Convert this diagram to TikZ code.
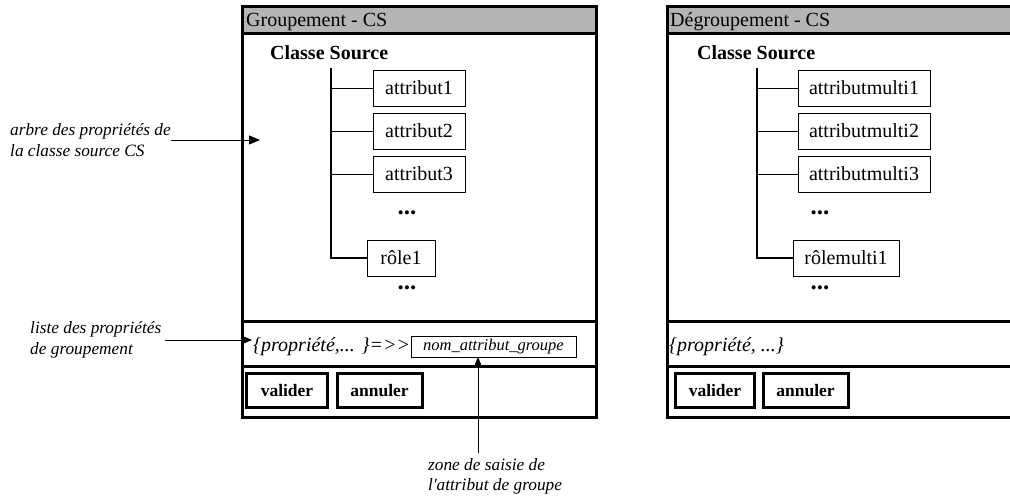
\documentclass[tikz,border=0pt]{standalone}
\usepackage{fontspec}
\setmainfont{Liberation Serif}
\usetikzlibrary{arrows.meta}

\definecolor{barre}{HTML}{B4B4B4}

\tikzset{
  texte/.style={font=\fontsize{20}{23}\selectfont, inner sep=0pt},
  champ/.style={draw, line width=0.8pt, minimum height=36pt, inner sep=0pt,
    font=\fontsize{20}{23}\selectfont},
  bouton/.style={draw, line width=3pt, minimum height=34pt, inner sep=0pt,
    font=\bfseries\fontsize{17.5}{20}\selectfont},
  points/.style={font=\bfseries\fontsize{25}{25}\selectfont, inner sep=0pt},
  note/.style={font=\itshape\fontsize{17.3}{20.5}\selectfont, align=left, inner sep=0pt},
  fleche/.style={-{Triangle[length=11pt,width=9pt]}, line width=0.8pt},
  cadre/.style={line width=3pt},
  tronc/.style={line width=1.2pt},
}

\begin{document}
\begin{tikzpicture}[x=1pt, y=-1pt]
    \useasboundingbox (0,0) rectangle (1010,502);

    % Groupement window
    \fill[barre] (242,7) rectangle (596,34);
    \draw[cadre] (242,7) rectangle (596,418);
    \draw[cadre] (242,34) -- (596,34);
    \draw[cadre] (242,322) -- (596,322);
    \draw[cadre] (242,367) -- (596,367);
    \node[texte, anchor=base west] (titreG) at (246,27) {Groupement - CS};
    \node[texte, anchor=base west, font=\bfseries\fontsize{20}{23}\selectfont] (classeG) at (270,60) {Classe Source};
    % tree of the source class
    \node[champ, minimum width=92] (a1) at (419,88) {attribut1};
    \node[champ, minimum width=92] (a2) at (419,131) {attribut2};
    \node[champ, minimum width=92] (a3) at (419,174) {attribut3};
    \node[points] (ptsG1) at (407,213) {...};
    \node[champ, minimum width=68] (r1) at (401,258) {rôle1};
    \node[points] (ptsG2) at (407,288) {...};
    \coordinate (troncG) at (331,68);
    \draw[tronc] (troncG) -- (troncG |- r1.west) -- (r1.west);
    \foreach \b in {a1,a2,a3} \draw (troncG |- \b.west) -- (\b.west);
    % grouping line
    \node[texte, anchor=base west, font=\itshape\fontsize{20}{23}\selectfont] (listeG) at (253,352) {\{propriété,... \}=>{}>};
    \node[draw, line width=0.8pt, minimum width=165, minimum height=21, inner sep=0pt,
      font=\itshape\fontsize{16.5}{18}\selectfont] (nomG) at (493.5,346.5) {nom\_attribut\_groupe};
    % buttons
    \node[bouton, minimum width=81] (valG) at (287,391) {valider};
    \node[bouton, minimum width=85] (annG) at (379.5,391) {annuler};

    % Dégroupement window (cut at the right)
    \fill[barre] (667,7) rectangle (1010,34);
    \draw[cadre] (1010,7) -- (667,7) -- (667,418) -- (1010,418);
    \draw[cadre] (667,34) -- (1010,34);
    \draw[cadre] (667,322) -- (1010,322);
    \draw[cadre] (667,367) -- (1010,367);
    \node[texte, anchor=base west] (titreD) at (670,27) {Dégroupement - CS};
    \node[texte, anchor=base west, font=\bfseries\fontsize{20}{23}\selectfont] (classeD) at (697,60) {Classe Source};
    \node[champ, minimum width=132] (m1) at (864,88) {attributmulti1};
    \node[champ, minimum width=132] (m2) at (864,131) {attributmulti2};
    \node[champ, minimum width=132] (m3) at (864,174) {attributmulti3};
    \node[points] (ptsD1) at (820,213) {...};
    \node[champ, minimum width=106] (rm1) at (846,258) {rôlemulti1};
    \node[points] (ptsD2) at (820,288) {...};
    \coordinate (troncD) at (757,68);
    \draw[tronc] (troncD) -- (troncD |- rm1.west) -- (rm1.west);
    \foreach \b in {m1,m2,m3} \draw (troncD |- \b.west) -- (\b.west);
    \node[texte, anchor=base west, font=\itshape\fontsize{20}{23}\selectfont] (listeD) at (669,352) {\{propriété, ...\}};
    \node[bouton, minimum width=79] (valD) at (715,391) {valider};
    \node[bouton, minimum width=85] (annD) at (805.5,391) {annuler};

    % annotations
    \node[note, anchor=west] (noteArbre) at (10,140) {arbre des propriétés de\\la classe source CS};
    \coordinate (cibleArbre) at (260,140);
    \draw[fleche] (noteArbre.east) -- (cibleArbre);
    \node[note, anchor=west] (noteListe) at (30,340) {liste des propriétés\\de groupement};
    \coordinate (cibleListe) at (252,340);
    \draw[fleche] (noteListe.east) ++(4,0) -- (cibleListe);
    \node[note, anchor=north west] (noteZone) at (428,458) {zone de saisie de\\l\textquotesingle attribut de groupe};
    \coordinate (cibleZone) at (478,357);
    \draw[fleche] (cibleZone |- 0,453) -- (cibleZone);
\end{tikzpicture}
\end{document}
